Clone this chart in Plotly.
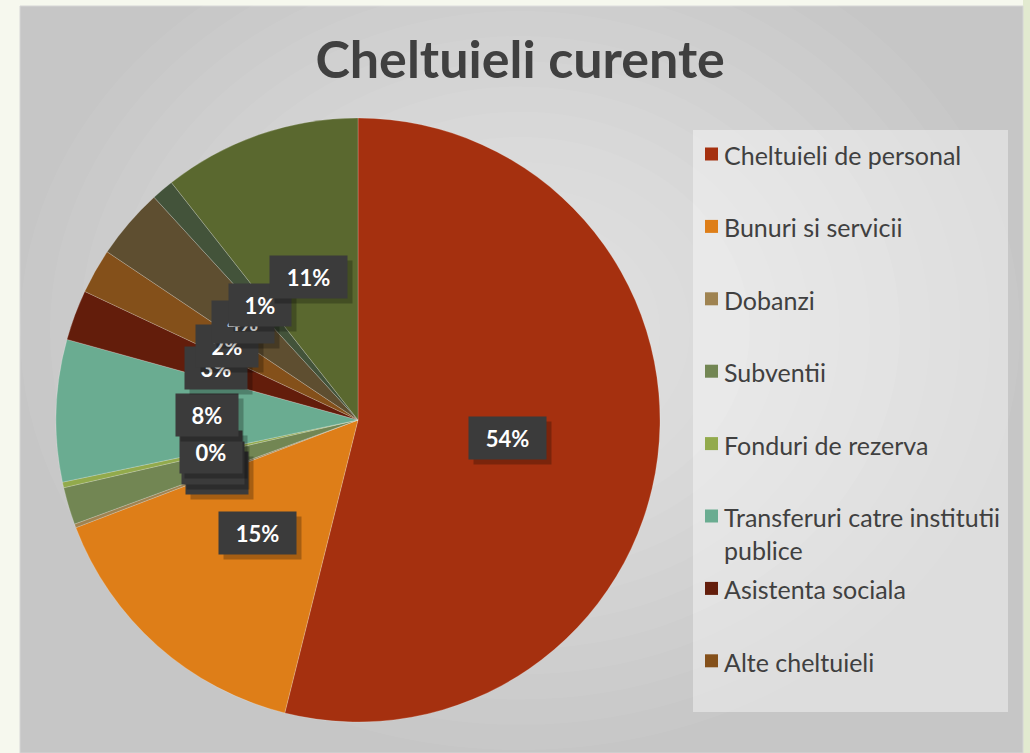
import math
import plotly.graph_objects as go

# slices, clockwise from 12 o'clock
labels = [
    "Cheltuieli de personal",
    "Bunuri si servicii",
    "Dobanzi",
    "Subventii",
    "Fonduri de rezerva",
    "Transferuri catre institutii publice",
    "Asistenta sociala",
    "Alte cheltuieli",
    "Alte transferuri",
    "Rambursari de credite",
    "Proiecte cu finantare externa",
]
values = [53.9, 15.3, 0.2, 2.0, 0.3, 7.6, 2.7, 2.4, 3.8, 1.2, 10.6]
colors = ["#A5300F", "#DE7E18", "#9F8351", "#728653", "#92AA4C", "#6AAC91",
          "#631D0B", "#84501A", "#5E4E30", "#43533A", "#5A682F"]
legend_labels = labels[:8]
legend_text = labels[:5] + ["Transferuri catre institutii<br>publice"] + labels[6:8]

W, H = 1030, 753
cx, cy, R = 358, 420, 302

fig = go.Figure()
fig.add_trace(go.Pie(
    labels=labels, values=values, sort=False, direction="clockwise", rotation=0,
    marker=dict(colors=colors, line=dict(color="rgba(255,255,255,0.35)", width=0.6)),
    textinfo="none", showlegend=False,
    domain=dict(x=[(cx - R) / W, (cx + R) / W], y=[1 - (cy + R) / H, 1 - (cy - R) / H]),
))

# percentage boxes, placed at half radius on each slice's mid angle
total = sum(values)
annotations = []
cum = 0
for v in values:
    mid = 2 * math.pi * (cum + v / 2) / total
    cum += v
    px_ = cx + 0.5 * R * math.sin(mid)
    py_ = cy - 0.5 * R * math.cos(mid)
    pct = f"{round(v / total * 100)}%"
    w = 15 * len(pct) + 22
    common = dict(x=px_ / W, y=1 - py_ / H, xref="paper", yref="paper",
                  xanchor="center", yanchor="middle",
                  showarrow=False, text=f"<b>{pct}</b>", width=w, height=32, borderpad=5)
    annotations.append(dict(common, bgcolor="rgba(0,0,0,0.25)", xshift=5, yshift=-5,
                            font=dict(family="Lato", size=22, color="rgba(0,0,0,0)")))
    annotations.append(dict(common, bgcolor="#3B3B3B",
                            font=dict(family="Lato", size=22, color="white")))

# background frame with a soft radial light
shapes = [
    dict(type="rect", xref="paper", yref="paper", x0=1023 / W, x1=1, y0=0, y1=1,
         fillcolor="#E2EAD0", line=dict(width=0), layer="below"),
    dict(type="rect", xref="paper", yref="paper", x0=20 / W, x1=1023 / W, y0=0, y1=1 - 6 / H,
         fillcolor="#C6C6C6", line=dict(color="#D6D6D6", width=1), layer="below"),
]
for k in range(14):
    s = 1.0 - k * 0.06
    shapes.append(dict(type="circle", xref="paper", yref="paper",
                       x0=(520 - 500 * s) / W, x1=(520 + 500 * s) / W,
                       y0=1 - (330 + 420 * s) / H, y1=1 - (330 - 420 * s) / H,
                       fillcolor="white", opacity=0.05, line=dict(width=0), layer="below"))
shapes.append(dict(type="rect", xref="paper", yref="paper", x0=693 / W, x1=1008 / W,
                   y0=1 - 712 / H, y1=1 - 130 / H, fillcolor="rgba(255,255,255,0.4)",
                   line=dict(width=0), layer="below"))

# legend (only the first eight entries fit)
step = 72.4
for i, (lab, txt) in enumerate(zip(legend_labels, legend_text)):
    yc = 154 + i * step
    shapes.append(dict(type="rect", xref="paper", yref="paper",
                       x0=705 / W, x1=718 / W, y0=1 - (yc + 6.5) / H, y1=1 - (yc - 6.5) / H,
                       fillcolor=colors[i], line=dict(width=0)))
    annotations.append(dict(x=722 / W, y=1 - (yc - 16) / H, xref="paper", yref="paper",
                            xanchor="left", yanchor="top", align="left", showarrow=False,
                            text=txt, font=dict(family="Lato", size=25, color="#404040")))

fig.update_layout(
    width=W, height=H, margin=dict(l=0, r=0, t=0, b=0),
    paper_bgcolor="#F6F8EE",
    title=dict(text="<b>Cheltuieli curente</b>", x=0.505, xanchor="center",
               y=1 - 60 / H, yanchor="middle",
               font=dict(family="Lato", size=52, color="#404040")),
    shapes=shapes, annotations=annotations,
)

fig.write_html("out.html", config={"displayModeBar": False},
               post_script="document.body.style.margin='0';")
